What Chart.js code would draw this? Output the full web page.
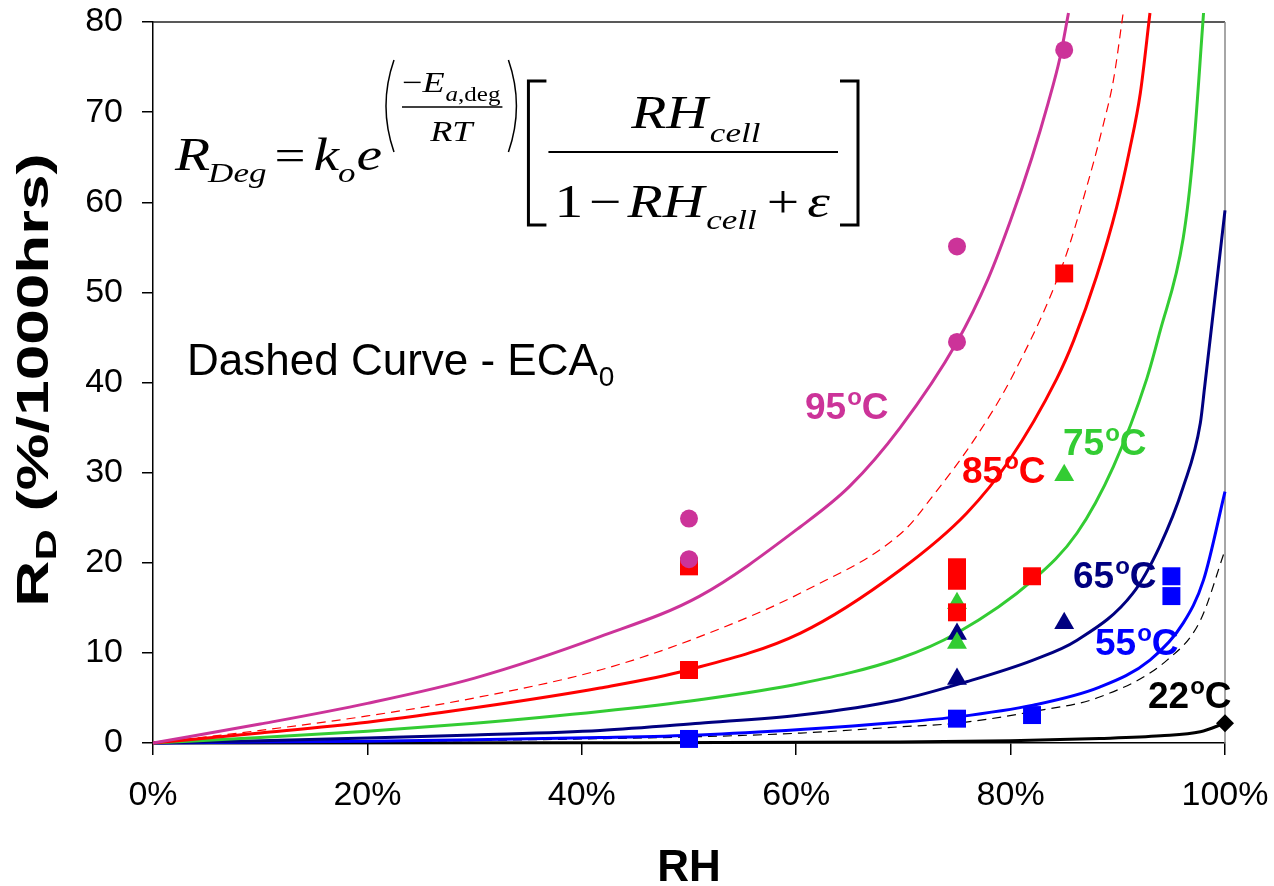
<!DOCTYPE html>
<html>
<head>
<meta charset="utf-8">
<script src="https://cdn.jsdelivr.net/npm/chart.js@4.4.0/dist/chart.umd.min.js"></script>
<style>
  html, body { margin: 0; padding: 0; background: #fff; }
  #wrap { width: 1274px; height: 886px; }
</style>
</head>
<body>
<div id="wrap"><canvas id="chartCanvas" width="1274" height="886"></canvas></div>
<script>
// model curves (RH in %, R_D in %/1000hrs)
const rh95 = [0, 10, 20, 30, 41.7, 51, 60.4, 65, 69.7, 75, 77.9, 80, 82, 83.5, 84.6, 85.4];
const rd95 = [0, 2.1, 4.4, 7.2, 11.8, 16.3, 24.0, 28.5, 35.0, 44.5, 51.5, 58, 65, 71, 76, 81];

const rh85eca = [0, 10, 20, 30, 41.7, 51, 61, 70, 72.8, 76.8, 80.3, 84.9, 87.1, 88.6, 89.6, 90.5];
const rd85eca = [0, 1.4, 3.0, 5.0, 8.1, 11.8, 17.0, 23.5, 27.5, 34.0, 41.0, 53.2, 61.7, 68.4, 73.6, 81];

const rh85 = [0, 10, 20, 30, 41.7, 49.9, 60.4, 69.7, 75.9, 79.9, 84.3, 85.9, 88.0, 89.9, 91.1, 92.1, 93.0];
const rd85 = [0, 1.1, 2.3, 3.9, 6.1, 8.1, 12.2, 19.2, 25.5, 31.4, 40.4, 44.7, 51.7, 59.5, 65.8, 72.1, 81];

const rh75 = [0, 10, 20, 30, 41.7, 51, 60.4, 69.7, 75, 82.1, 86.2, 89.6, 92.7, 93.9, 96.1, 97.0, 98.0];
const rd75 = [0, 0.6, 1.3, 2.2, 3.5, 4.8, 6.6, 9.4, 12.2, 18.1, 23.3, 30.7, 40.4, 45.5, 56, 65, 81];

const rh65 = [0, 10, 20, 30, 41.7, 51, 60.4, 69.7, 75.9, 82.1, 86.2, 91.4, 93.9, 96.1, 97.7, 98.1, 100];
const rd65 = [0, 0.25, 0.55, 0.9, 1.4, 2.2, 3.1, 4.8, 6.8, 9.2, 11.4, 16.6, 21.8, 28.4, 35.5, 39.5, 59.1];

const rh55 = [0, 10, 20, 30, 41.7, 51, 60.4, 69.7, 75, 82.1, 88.3, 93, 96.1, 98, 100];
const rd55 = [0, 0.1, 0.2, 0.35, 0.6, 0.9, 1.5, 2.3, 2.9, 4.2, 6.2, 9.2, 13.3, 18.1, 27.9];

const rh55eca = [0, 20, 40, 51, 60.4, 69.7, 75, 82.1, 88.3, 94.6, 97.7, 100];
const rd55eca = [0, 0.15, 0.45, 0.7, 1.1, 1.8, 2.2, 3.5, 5.1, 9.2, 13.6, 21.4];

const rh22 = [0, 40, 69.7, 80, 88.3, 94, 97.7, 100];
const rd22 = [0, 0.02, 0.1, 0.25, 0.5, 0.8, 1.25, 2.2];

// measured points
const rh95Pts = [50, 50, 75, 75, 85];
const rd95Pts = [24.9, 20.4, 55.1, 44.5, 76.9];
const rh85Pts = [50, 50, 75, 75, 75, 82, 85];
const rd85Pts = [19.6, 8.1, 19.5, 18.0, 14.5, 18.5, 52.1];
const rh75Pts = [75, 75, 85];
const rd75Pts = [15.5, 11.1, 29.7];
const rh65Pts = [75, 75, 85];
const rd65Pts = [12.1, 7.1, 13.3];
const rh55Pts = [50, 75, 82, 95, 95];
const rd55Pts = [0.45, 2.7, 3.1, 18.5, 16.3];
const rh22Pts = [100];
const rd22Pts = [2.2];

const xTicks = [0, 20, 40, 60, 80, 100];
const yTicks = [0, 10, 20, 30, 40, 50, 60, 70, 80];

const tempLabels = ['95', '85', '75', '65', '55', '22'];

const MAGENTA = '#CC3399', RED = '#FF0000', GREEN = '#33CC33', NAVY = '#000080', BLUE = '#0000FF', BLACK = '#000000';
const SANS = '"Liberation Sans", Arial, sans-serif';
const SERIF = '"Liberation Serif", "Times New Roman", serif';

Chart.defaults.font.family = SANS;
Chart.defaults.color = '#000';

let zip = (xs, ys) => xs.map((x, i) => ({x: x, y: ys[i]}));

function curve(xs, ys, color, dashed) {
    return {
        data: zip(xs, ys),
        showLine: true,
        borderColor: color,
        borderWidth: dashed ? 1.2 : 3,
        borderDash: dashed ? [9, 6] : [],
        pointRadius: 0,
        fill: false,
        cubicInterpolationMode: 'monotone',
        clip: {left: 4, top: 12, right: 4, bottom: 4}
    };
}

function marks(xs, ys, color, style, r) {
    return {
        data: zip(xs, ys),
        showLine: false,
        backgroundColor: color,
        borderColor: color,
        borderWidth: 0,
        pointStyle: style,
        pointRadius: r,
        clip: false
    };
}

// text drawn with a horizontal stretch, like the pasted equation object
function ft(ctx, txt, x, y, size, italic, sx) {
    ctx.save();
    ctx.font = (italic ? 'italic ' : '') + size + 'px ' + SERIF;
    ctx.translate(x, y);
    ctx.scale(sx, 1);
    ctx.fillText(txt, 0, 0);
    let w = ctx.measureText(txt).width * sx;
    ctx.restore();
    return x + w;
}

function drawFormula(ctx) {
    const sx = 1.25;
    ctx.fillStyle = '#000';
    ctx.strokeStyle = '#000';
    ctx.textBaseline = 'alphabetic';
    let x = 175, base = 170;
    x = ft(ctx, 'R', x, base, 46, true, sx);
    x = ft(ctx, 'Deg', x - 2, base + 12, 28, true, sx);
    x = ft(ctx, '=', x + 8, base, 44, false, sx);
    x = ft(ctx, 'k', x + 8, base, 46, true, sx);
    x = ft(ctx, 'o', x - 1, base + 12, 28, true, sx);
    x = ft(ctx, 'e', x + 1, base, 46, true, sx);

    // exponent ( -E_a,deg / RT )
    ctx.lineWidth = 1.5;
    let pl = x + 2;
    ctx.beginPath();
    ctx.moveTo(pl + 10, 60);
    ctx.quadraticCurveTo(pl - 6, 106, pl + 10, 152);
    ctx.stroke();
    let fx = pl + 18;
    let e1 = ft(ctx, '\u2212', fx, 92, 29, false, sx);
    e1 = ft(ctx, 'E', e1, 92, 29, true, sx);
    e1 = ft(ctx, 'a', e1 + 1, 101, 20, true, sx);
    e1 = ft(ctx, ',deg', e1, 101, 20, false, sx);
    ctx.lineWidth = 1.5;
    ctx.beginPath();
    ctx.moveTo(fx, 107);
    ctx.lineTo(e1 + 2, 107);
    ctx.stroke();
    ft(ctx, 'RT', (fx + e1) / 2 - 21, 141, 29, true, sx);
    let pr = e1 + 8;
    ctx.beginPath();
    ctx.moveTo(pr, 60);
    ctx.quadraticCurveTo(pr + 16, 106, pr, 152);
    ctx.stroke();

    // brackets
    let bl = pr + 20, br = 858;
    ctx.lineWidth = 3;
    ctx.beginPath();
    ctx.moveTo(bl + 18, 81); ctx.lineTo(bl, 81); ctx.lineTo(bl, 225); ctx.lineTo(bl + 18, 225);
    ctx.moveTo(br - 18, 81); ctx.lineTo(br, 81); ctx.lineTo(br, 225); ctx.lineTo(br - 18, 225);
    ctx.stroke();

    // fraction
    let fl = bl + 20, fr = br - 20;
    ctx.lineWidth = 2;
    ctx.beginPath();
    ctx.moveTo(fl, 152);
    ctx.lineTo(fr, 152);
    ctx.stroke();
    let mid = (fl + fr) / 2;
    let n = ft(ctx, 'RH', mid - 62, 128, 46, true, sx);
    ft(ctx, 'cell', n + 2, 142, 28, true, sx);
    let d = ft(ctx, '1', fl + 6, 217, 46, false, sx);
    d = ft(ctx, '\u2212', d + 6, 217, 46, false, sx);
    d = ft(ctx, 'RH', d + 6, 217, 46, true, sx);
    d = ft(ctx, 'cell', d + 2, 229, 28, true, sx);
    d = ft(ctx, '+', d + 10, 217, 46, false, sx);
    ft(ctx, '\u03B5', d + 8, 217, 46, true, sx);
}

function tempLabel(ctx, t, x, y, color) {
    ctx.fillStyle = color;
    ctx.font = 'bold 37px ' + SANS;
    ctx.fillText(t, x, y);
    let w = ctx.measureText(t).width;
    ctx.font = 'bold 24px ' + SANS;
    ctx.fillText('o', x + w + 1, y - 14);
    let wo = ctx.measureText('o').width;
    ctx.font = 'bold 37px ' + SANS;
    ctx.fillText('C', x + w + wo + 1, y);
}

const framePlugin = {
    id: 'frame',
    beforeDatasetsDraw(chart) {
        const ctx = chart.ctx, a = chart.chartArea;
        ctx.save();
        ctx.lineWidth = 1.5;
        ctx.strokeStyle = '#222';
        ctx.beginPath();
        ctx.moveTo(a.left, a.top);
        ctx.lineTo(a.right, a.top);
        ctx.stroke();
        ctx.strokeStyle = '#888';
        ctx.beginPath();
        ctx.moveTo(a.right, a.top);
        ctx.lineTo(a.right, a.bottom);
        ctx.stroke();
        ctx.restore();
    },
    afterDraw(chart) {
        const ctx = chart.ctx;
        ctx.save();
        ctx.textBaseline = 'alphabetic';
        ctx.textAlign = 'left';

        drawFormula(ctx);

        // dashed curve note
        ctx.fillStyle = '#000';
        ctx.font = '44px ' + SANS;
        ctx.fillText('Dashed Curve - ECA', 187, 375);
        let w = ctx.measureText('Dashed Curve - ECA').width;
        ctx.font = '28px ' + SANS;
        ctx.fillText('0', 187 + w + 1, 386);

        // curve labels
        tempLabel(ctx, tempLabels[0], 805, 419, MAGENTA);
        tempLabel(ctx, tempLabels[1], 962, 483, RED);
        tempLabel(ctx, tempLabels[2], 1063, 455, GREEN);
        tempLabel(ctx, tempLabels[3], 1073, 588, NAVY);
        tempLabel(ctx, tempLabels[4], 1095, 655, BLUE);
        tempLabel(ctx, tempLabels[5], 1148, 708, BLACK);

        // axis titles
        ctx.fillStyle = '#000';
        ctx.font = 'bold 44px ' + SANS;
        ctx.textAlign = 'center';
        ctx.fillText('RH', (chart.chartArea.left + chart.chartArea.right) / 2, 881);

        ctx.textAlign = 'left';
        ctx.translate(48, 380);
        ctx.rotate(-Math.PI / 2);
        ctx.scale(1.45, 1);
        ctx.font = 'bold 44px ' + SANS;
        let wR = ctx.measureText('R').width;
        let rest = ' (%/1000hrs)';
        let wRest = ctx.measureText(rest).width;
        ctx.font = 'bold 30px ' + SANS;
        let wD = ctx.measureText('D').width;
        let x0 = -(wR + wD + wRest) / 2;
        ctx.font = 'bold 44px ' + SANS;
        ctx.fillText('R', x0, 0);
        ctx.font = 'bold 30px ' + SANS;
        ctx.fillText('D', x0 + wR, 8);
        ctx.font = 'bold 44px ' + SANS;
        ctx.fillText(rest, x0 + wR + wD, 0);
        ctx.restore();
    }
};

let ctx = document.getElementById('chartCanvas').getContext('2d');
let chart = new Chart(ctx, {
    type: 'scatter',
    data: {
        datasets: [
            marks(rh95Pts, rd95Pts, MAGENTA, 'circle', 9),
            marks(rh85Pts, rd85Pts, RED, 'rect', 12.7),
            marks(rh75Pts, rd75Pts, GREEN, 'triangle', 11.5),
            marks(rh65Pts, rd65Pts, NAVY, 'triangle', 11.5),
            marks(rh55Pts, rd55Pts, BLUE, 'rect', 12.7),
            marks(rh22Pts, rd22Pts, BLACK, 'rectRot', 9),
            curve(rh95, rd95, MAGENTA, false),
            curve(rh85eca, rd85eca, RED, true),
            curve(rh85, rd85, RED, false),
            curve(rh75, rd75, GREEN, false),
            curve(rh65, rd65, NAVY, false),
            curve(rh55, rd55, BLUE, false),
            curve(rh55eca, rd55eca, BLACK, true),
            curve(rh22, rd22, BLACK, false)
        ]
    },
    options: {
        responsive: false,
        animation: false,
        layout: {padding: {left: 0, top: 22, right: 49, bottom: 0}},
        plugins: {
            legend: {display: false},
            tooltip: {enabled: false}
        },
        scales: {
            x: {
                type: 'linear',
                min: 0,
                max: 100,
                afterBuildTicks: (s) => { s.ticks = xTicks.map(v => ({value: v})); },
                afterFit: (s) => { s.height = 143; s.paddingLeft = 0; s.paddingRight = 0; },
                ticks: {
                    callback: (v) => v + '%',
                    font: {size: 34},
                    color: '#000',
                    padding: 20,
                    maxRotation: 0
                },
                grid: {drawOnChartArea: false, drawTicks: true, tickLength: 12, color: '#000', lineWidth: 1.5},
                border: {color: '#000', width: 1.5}
            },
            y: {
                min: 0,
                max: 80,
                afterBuildTicks: (s) => { s.ticks = yTicks.map(v => ({value: v})); },
                afterFit: (s) => { s.width = 153; s.paddingTop = 0; s.paddingBottom = 0; },
                ticks: {
                    font: {size: 34},
                    color: '#000',
                    padding: 19
                },
                grid: {drawOnChartArea: false, drawTicks: true, tickLength: 11, color: '#000', lineWidth: 1.5},
                border: {color: '#000', width: 1.5}
            }
        }
    },
    plugins: [framePlugin]
});
</script>
</body>
</html>
